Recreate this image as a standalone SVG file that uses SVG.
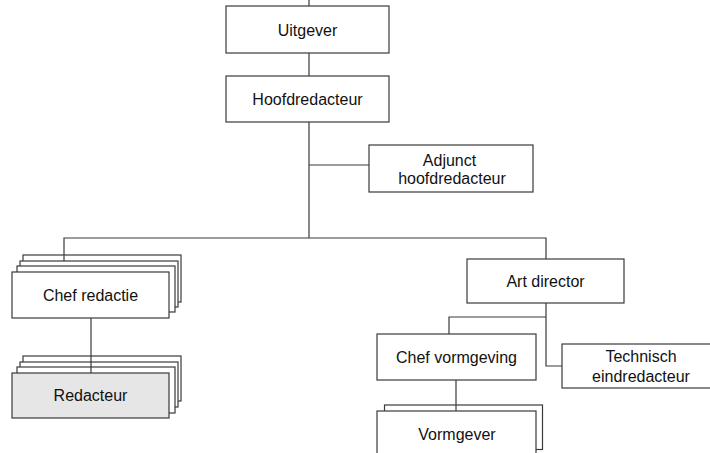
<svg xmlns="http://www.w3.org/2000/svg" width="710" height="453" viewBox="0 0 710 453">
<style>
.box{fill:#ffffff;stroke:#3a3a3a;stroke-width:1.2}
.grey{fill:#e6e6e6;stroke:#3a3a3a;stroke-width:1.2}
.ln{fill:none;stroke:#3a3a3a;stroke-width:1.2}
text{font-family:"Liberation Sans",Arial,sans-serif;font-size:16px;fill:#111;text-anchor:middle}
</style>
<rect width="710" height="453" fill="#ffffff"/>
<g id="uitgever">
<rect class="box" x="226" y="6" width="163" height="47"/>
<text x="307.5" y="35.5">Uitgever</text>
</g>
<g id="hoofdredacteur">
<rect class="box" x="226" y="76" width="163" height="46"/>
<text x="307.5" y="104.5">Hoofdredacteur</text>
</g>
<g id="adjunct">
<rect class="box" x="369" y="145" width="164" height="47"/>
<text x="449.5" y="165.5">Adjunct</text>
<text x="452" y="183.5">hoofdredacteur</text>
</g>
<g id="chef-redactie">
<rect class="box" x="23" y="255" width="158" height="47"/>
<rect class="box" x="20" y="261" width="158" height="46"/>
<rect class="box" x="17" y="266" width="158" height="46"/>
<rect class="box" x="12" y="272" width="157" height="46"/>
<text x="90.5" y="300.5">Chef redactie</text>
</g>
<g id="redacteur">
<rect class="box" x="23" y="356" width="158" height="45"/>
<rect class="box" x="20" y="362" width="158" height="45"/>
<rect class="box" x="17" y="367" width="158" height="46"/>
<rect class="grey" x="12" y="373" width="157" height="45"/>
<text x="90.5" y="401">Redacteur</text>
</g>
<g id="art-director">
<rect class="box" x="467" y="259" width="157" height="44"/>
<text x="545.5" y="286.5">Art director</text>
</g>
<g id="chef-vormgeving">
<rect class="box" x="377" y="334" width="159" height="46"/>
<text x="456.5" y="362.5">Chef vormgeving</text>
</g>
<g id="technisch">
<rect class="box" x="562" y="344" width="160" height="44"/>
<text x="641" y="361.5">Technisch</text>
<text x="641" y="382">eindredacteur</text>
</g>
<g id="vormgever">
<rect class="box" x="384.5" y="405" width="158" height="44.5"/>
<rect class="box" x="377" y="411" width="159" height="50"/>
<text x="457" y="440">Vormgever</text>
</g>
<g id="connectors">
<path class="ln" d="M309 0V6"/>
<path class="ln" d="M309 53V76"/>
<path class="ln" d="M309 122V238"/>
<path class="ln" d="M309 165H369"/>
<path class="ln" d="M64 261V238H546V259"/>
<path class="ln" d="M91 318V373"/>
<path class="ln" d="M546 303V366H562"/>
<path class="ln" d="M546 317H449V334"/>
<path class="ln" d="M456 380V411"/>
</g>
</svg>
